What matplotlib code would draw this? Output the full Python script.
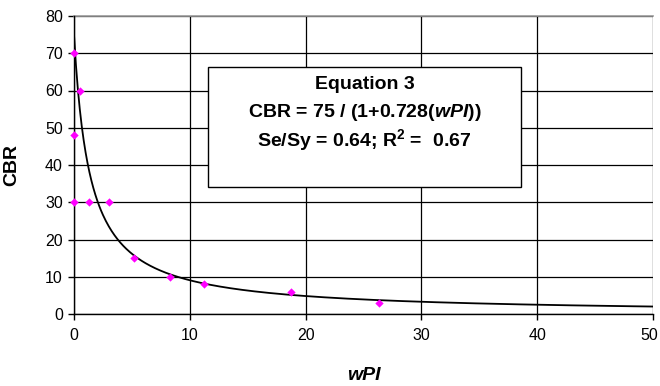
import numpy as np
import matplotlib
matplotlib.use("Agg")
import matplotlib.pyplot as plt
import matplotlib.transforms as mtransforms

plt.rcParams['font.family'] = ['Liberation Sans', 'DejaVu Sans']
plt.rcParams['mathtext.fontset'] = 'custom'
plt.rcParams['mathtext.rm'] = 'Liberation Sans:bold'
plt.rcParams['mathtext.it'] = 'Liberation Sans:bold:italic'
plt.rcParams['mathtext.bf'] = 'Liberation Sans:bold'

# Measured data
wpi = [0.0, 0.5, 0.0, 0.0, 1.3, 3.0, 5.2, 8.3, 11.2, 18.7, 26.3]
cbr = [70, 60, 48, 30, 30, 30, 15, 10, 8, 6, 3]

# Fitted model: CBR = a / (1 + b * wPI)
a_coef = 75
b_coef = 0.728

x_ticks = [0, 10, 20, 30, 40, 50]
y_ticks = [0, 10, 20, 30, 40, 50, 60, 70, 80]

fig = plt.figure(figsize=(6.6, 3.86), dpi=100)
ax = fig.add_axes([74 / 660, 1 - 314 / 386, (653 - 74) / 660, (314 - 16) / 386])

ax.set_xlim(0, 50)
ax.set_ylim(0, 80)
ax.set_xticks(x_ticks)
ax.set_yticks(y_ticks)
ax.grid(True, color='black', linewidth=0.9)
ax.set_axisbelow(True)

xf = np.linspace(0, 50, 600)
ax.plot(xf, a_coef / (1 + b_coef * xf), color='black', linewidth=1.3, zorder=3)
ax.scatter(wpi, cbr, s=18, marker='D', color='#ff00ff', zorder=4, clip_on=False,
           linewidths=0)

for side in ('top', 'right'):
    ax.spines[side].set_visible(False)
ax.spines['left'].set_linewidth(1.0)
ax.spines['bottom'].set_linewidth(1.0)
ax.axhline(80, color='#999999', linewidth=1.2, zorder=2, clip_on=False)

ax.tick_params(direction='out', length=4, width=1.0, labelsize=11.5, colors='black', pad=4)
ax.tick_params(axis='x', pad=6)

# keep the last x tick label inside the figure edge
fig.canvas.draw()
last = ax.get_xticklabels()[-1]
last.set_transform(last.get_transform() +
                   mtransforms.ScaledTranslation(-4 / 100, 0, fig.dpi_scale_trans))

ax.set_ylabel('CBR', fontsize=14, fontweight='bold')
ax.yaxis.set_label_coords(-0.092, 0.5)
ax.set_xlabel('wPI', fontsize=14, fontweight='bold', style='italic', va='center')
ax.xaxis.set_label_coords(0.5, -0.205)

# Equation box
x0, x1 = 11.57, 38.6
y0, y1 = 34.1, 66.3
ax.add_patch(plt.Rectangle((x0, y0), x1 - x0, y1 - y0, facecolor='white',
                           edgecolor='black', linewidth=1.0, zorder=5))
xc = (x0 + x1) / 2
ax.text(xc, 61.7, 'Equation 3', ha='center', va='center', fontsize=14,
        fontweight='bold', zorder=6)
ax.text(xc, 54.2, r'CBR = 75 / (1+0.728($wPI$))', ha='center', va='center',
        fontsize=14, fontweight='bold', zorder=6)
ax.text(xc, 46.7, r'Se/Sy = 0.64; R$^\mathrm{2}$ =  0.67', ha='center', va='center',
        fontsize=14, fontweight='bold', zorder=6)

fig.savefig('out.png', dpi=100)
